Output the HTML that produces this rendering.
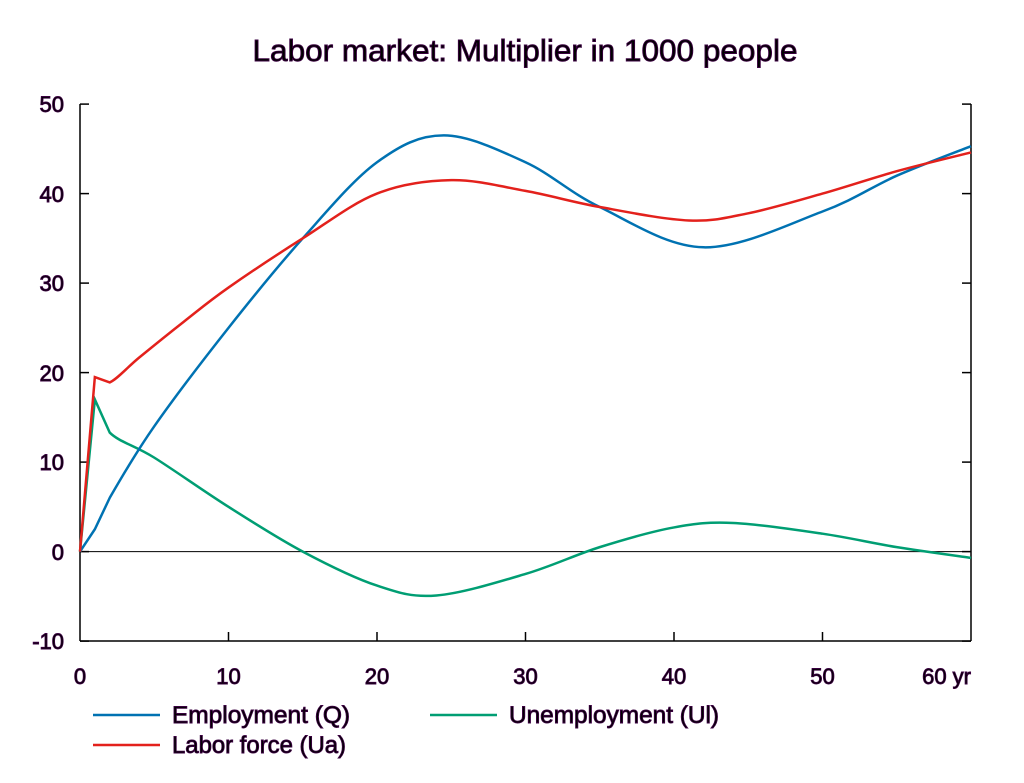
<!DOCTYPE html>
<html><head><meta charset="utf-8"><style>
body{margin:0;background:#fff;}
svg text{font-family:"Liberation Sans",Arial,sans-serif;fill:#000;stroke:#3a0040;stroke-width:0.9px;}
</style></head><body>
<svg id="s" width="1024" height="778" viewBox="0 0 1024 778" xmlns="http://www.w3.org/2000/svg">
<text x="525" y="61" font-size="31" text-anchor="middle" textLength="545" lengthAdjust="spacingAndGlyphs">Labor market: Multiplier in 1000 people</text>
<g stroke="#000" stroke-width="1.5" fill="none">
<line x1="80" y1="104" x2="80" y2="641"/>
<line x1="971" y1="104" x2="971" y2="641"/>
<line x1="80" y1="641" x2="971" y2="641"/>
</g>
<line x1="80" y1="551.6" x2="971" y2="551.6" stroke="#000" stroke-width="1"/>
<g id="ticks" stroke="#000" stroke-width="1.5"></g>
<g font-size="22" text-anchor="end">
<text x="64" y="112">50</text><text x="64" y="202">40</text><text x="64" y="291">30</text>
<text x="64" y="381">20</text><text x="64" y="470">10</text><text x="64" y="560">0</text><text x="64" y="649">-10</text>
</g>
<g font-size="22" text-anchor="middle">
<text x="80" y="684">0</text><text x="228.5" y="684">10</text><text x="377" y="684">20</text>
<text x="525.5" y="684">30</text><text x="674" y="684">40</text><text x="822.5" y="684">50</text><text x="971" y="684" text-anchor="end">60 yr</text>
</g>
<g id="series" fill="none" stroke-width="2.5"></g>
<g font-size="24">
<line x1="93" y1="715" x2="160" y2="715" stroke="#0072b2" stroke-width="2.5"/>
<text x="172" y="723" textLength="178" lengthAdjust="spacingAndGlyphs">Employment (Q)</text>
<line x1="430" y1="715" x2="497" y2="715" stroke="#009e73" stroke-width="2.5"/>
<text x="509" y="723" textLength="210" lengthAdjust="spacingAndGlyphs">Unemployment (Ul)</text>
<line x1="93" y1="745" x2="160" y2="745" stroke="#e3211c" stroke-width="2.5"/>
<text x="172" y="753" textLength="174" lengthAdjust="spacingAndGlyphs">Labor force (Ua)</text>
</g>
</svg>
<script>
var X=t=>80+t*14.85, Y=v=>551.6-v*8.95;
var tk=document.getElementById('ticks'),h='';
for(var v=-10;v<=50;v+=10){h+='<line x1="80" y1="'+Y(v)+'" x2="89" y2="'+Y(v)+'"/><line x1="962" y1="'+Y(v)+'" x2="971" y2="'+Y(v)+'"/>';}
for(var t=10;t<60;t+=10){h+='<line x1="'+X(t)+'" y1="641" x2="'+X(t)+'" y2="632"/>';}
tk.innerHTML=h;
function path(pts){
 var P=pts.map(p=>[X(p[0]),Y(p[1])]);var d='M'+P[0][0]+','+P[0][1];
 for(var i=0;i<P.length-1;i++){var p0=P[Math.max(i-1,0)],p1=P[i],p2=P[i+1],p3=P[Math.min(i+2,P.length-1)];
 if(i<2){d+=' L'+p2[0]+','+p2[1];continue;}
 var c1=[p1[0]+(p2[0]-p0[0])/6,p1[1]+(p2[1]-p0[1])/6],c2=[p2[0]-(p3[0]-p1[0])/6,p2[1]-(p3[1]-p1[1])/6];
 d+=' C'+c1+' '+c2+' '+p2;}
 return d;}
var E=[[0,0],[1,2.5],[2,6],[5,14],[10,25],[15,35],[20,43.5],[24.5,46.5],[30,43.5],[35,38.5],[42,34],[50,38],[55,42],[60,45.3]];
var R=[[0,0],[1,19.5],[2,18.9],[4,21.7],[7,25.7],[10,29.5],[15,35],[20,40],[25,41.5],[30,40.3],[35,38.5],[41,37],[45,37.8],[50,40],[55,42.5],[60,44.6]];
var G=[[0,0],[1,17],[2,13.3],[5,10.5],[10,5],[15,0],[20,-3.8],[24,-4.9],[30,-2.5],[35,0.5],[40,2.7],[44,3.2],[50,2],[55,0.5],[60,-0.7]];
document.getElementById('series').innerHTML='<path d="'+path(G)+'" stroke="#009e73"/><path d="'+path(E)+'" stroke="#0072b2"/><path d="'+path(R)+'" stroke="#e3211c"/>';
</script>
</body></html>
